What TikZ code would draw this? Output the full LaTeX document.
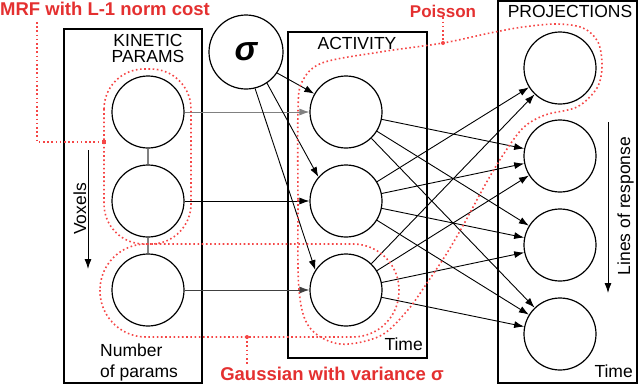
\documentclass[tikz,border=0pt]{standalone}
\usepackage{fontspec}
\setmainfont{Liberation Sans}
\usetikzlibrary{arrows.meta,calc}
\definecolor{myred}{RGB}{245,70,70}
\definecolor{labred}{RGB}{228,48,48}
\begin{document}
\begin{tikzpicture}[x=1pt,y=-1pt,
  circ/.style={circle,draw,line width=1.2pt,minimum size=72pt,inner sep=0pt},
  box/.style={draw,line width=1.5pt},
  lbl/.style={font=\fontsize{17.5}{18}\selectfont,inner sep=0pt},
  redlbl/.style={font=\bfseries\fontsize{18.5}{19}\selectfont,text=labred,inner sep=0pt},
  reddot/.style={draw=myred,line width=1.6pt,dash pattern=on 1.6pt off 2.6pt},
  arr/.style={-{Latex[length=10pt,width=7pt]},line width=0.9pt},
]
\useasboundingbox (0,0) rectangle (640,386);

% boxes
\draw[box] (64,29) rectangle (202,383);
\draw[box] (288,32) rectangle (427,358);
\draw[box] (498,1) rectangle (637,383);

% box labels
\node[lbl,anchor=base] (kin1) at (148,46) {KINETIC};
\node[lbl,anchor=base] (kin2) at (148,62) {PARAMS};
\node[lbl,anchor=base] (act) at (357,49) {ACTIVITY};
\node[lbl,anchor=base] (proj) at (570,17) {PROJECTIONS};
\node[lbl,anchor=base west] (num1) at (100,356) {Number};
\node[lbl,anchor=base west] (num2) at (100,377) {of params};
\node[lbl,anchor=base east] (tact) at (423,350) {Time};
\node[lbl,anchor=base east] (tproj) at (633,377) {Time};
\node[lbl,rotate=90,anchor=base] (vox) at (86,209) {Voxels};
\node[lbl,rotate=90,anchor=base] (lor) at (630,206) {Lines of response};

% circles
\node[circ] (k1) at (148,112) {};
\node[circ] (k2) at (148,201) {};
\node[circ] (k3) at (148,290) {};
\node[circ,minimum size=74pt] (s) at (246,52) {\fontsize{34}{34}\selectfont\bfseries\itshape σ};
\node[circ] (a1) at (346,112) {};
\node[circ] (a2) at (346,201) {};
\node[circ] (a3) at (346,290) {};
\node[circ] (p1) at (560,68) {};
\node[circ] (p2) at (560,156) {};
\node[circ] (p3) at (560,245) {};
\node[circ] (p4) at (560,334) {};

% links in kinetic column
\draw[gray,line width=1.2pt] (k1) -- (k2);
\draw[gray,line width=1.2pt] (k2) -- (k3);

% kinetic -> activity
\draw[arr,gray] (k1) -- (a1);
\draw[arr] (k2) -- (a2);
\draw[arr,black!75] (k3) -- (a3);

% sigma -> activity
\draw[arr] (s.-34) -- (a1.150);
\draw[arr] (s.-56) -- (a2.139);
\draw[arr] (s.-76) -- (a3.147);

% activity -> projections
\draw[arr] (a1) -- (p2);
\draw[arr] (a1) -- (p3);
\draw[arr] (a1) -- (p4);
\draw[arr] (a2) -- (p1);
\draw[arr] (a2) -- (p2);
\draw[arr] (a2) -- (p3);
\draw[arr] (a2) -- (p4);
\draw[arr] (a3) -- (p1);
\draw[arr] (a3) -- (p2);
\draw[arr] (a3) -- (p3);
\draw[arr] (a3) -- (p4);

% direction arrows
\coordinate (vt) at (88,150);
\coordinate (vb) at (88,269);
\draw[arr] (vt) -- (vb);
\coordinate (lt) at (608,122);
\coordinate (lb) at (608,293);
\draw[arr] (lt) -- (lb);

% red enclosures
\draw[reddot,rounded corners=40pt] (104,69) rectangle (191,244);
\draw[reddot,rounded corners=46pt] (100,244) rectangle (399,337);
\draw[reddot] plot[smooth cycle,tension=0.55] coordinates {
  (298,110) (298,200) (299,290) (310,328) (340,344) (380,336) (407,311)
  (427,283) (447,253) (465,222) (485,185) (503,155) (523,128) (545,115)
  (577,107) (597,88) (602,66) (598,42) (583,28) (557,24) (523,27)
  (490,33) (443,43) (380,52) (322,63) (302,82)};

% red labels
\node[redlbl,anchor=base] (mrf) at (105,15) {MRF with L-1 norm cost};
\node[redlbl,anchor=base,font=\bfseries\fontsize{17}{18}\selectfont] (poi) at (443,17) {Poisson};
\node[redlbl,anchor=base] (gau) at (332,380) {Gaussian with variance σ};

% red pointers
\coordinate (mrfs) at (37,22);
\coordinate (mrfj) at (104,142);
\draw[reddot] (mrfs) |- (mrfj);
\fill[myred] ($(mrfj)+(-2,-2)$) rectangle ($(mrfj)+(2,2)$);
\coordinate (pj) at (443,43);
\draw[reddot] (poi.south) -- (pj);
\fill[myred] (pj) circle (2);
\coordinate (gj) at (247,337);
\draw[reddot] (gj) -- (gj |- gau.north);
\fill[myred] (gj) circle (2);
\end{tikzpicture}
\end{document}
